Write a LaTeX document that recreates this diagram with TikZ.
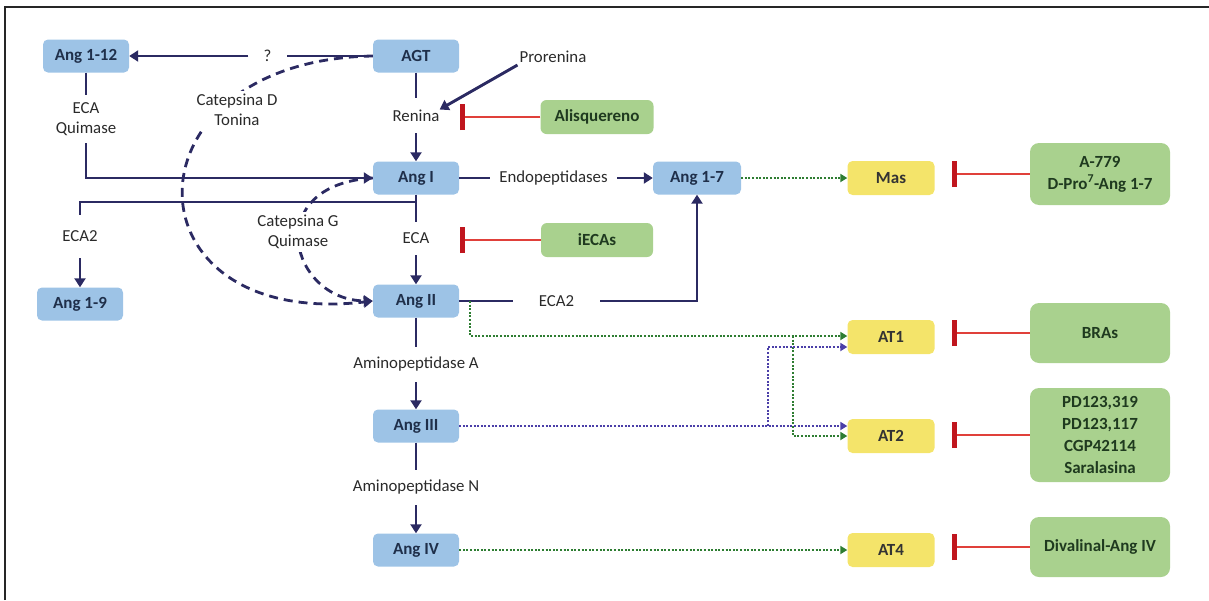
\documentclass[tikz,border=0pt]{standalone}
\usepackage{fontspec}
\setmainfont{Carlito}
\usetikzlibrary{arrows.meta,calc}
\definecolor{navy}{HTML}{2B2A62}
\definecolor{boxblue}{HTML}{9DC3E6}
\definecolor{boxgreen}{HTML}{A9D18E}
\definecolor{boxyellow}{HTML}{F4E46A}
\definecolor{inhred}{HTML}{E0403A}
\definecolor{barred}{HTML}{C0161E}
\definecolor{dotgreen}{HTML}{2E7D32}
\definecolor{dotpurple}{HTML}{4B3FA8}
\definecolor{txt}{HTML}{2A2A2A}
\definecolor{boxtxt}{HTML}{1F2F4A}
\definecolor{greentxt}{HTML}{1F3A1F}
\tikzset{
  base/.style={rounded corners=5pt, inner sep=2pt, align=center,
    font=\fontsize{17}{22}\selectfont\bfseries},
  bluebox/.style={base, fill=boxblue, text=boxtxt, minimum width=86pt, minimum height=33pt},
  yellowbox/.style={base, fill=boxyellow, text=black!80, minimum width=87pt, minimum height=34pt},
  greenbox/.style={base, fill=boxgreen, text=greentxt, rounded corners=9pt},
  lbl/.style={inner sep=0pt, align=center, text=txt, font=\fontsize{16.8}{20}\selectfont},
  flow/.style={draw=navy, line width=2.9pt},
  arr/.style={flow, -{Triangle[length=9pt,width=11pt]}},
  dasharr/.style={draw=navy, line width=2.8pt, dash pattern=on 9pt off 6pt, -{Triangle[length=9pt,width=11pt]}},
  inh/.style={draw=inhred, line width=2.4pt, -{Bar[width=26pt,line width=4.5pt,color=barred]}},
  gdot/.style={draw=dotgreen, line width=2.3pt, dash pattern=on 2pt off 1.6pt, -{Triangle[length=7pt,width=8pt]}},
  pdot/.style={draw=dotpurple, line width=2.3pt, dash pattern=on 2pt off 1.6pt, -{Triangle[length=7pt,width=8pt]}}
}
\begin{document}
\begin{tikzpicture}[x=1pt,y=-1pt]
\useasboundingbox (0,0) rectangle (1209,600);
\draw[line width=1.8pt, black!85] (5,600) -- (5,7) -- (1209,7);

% blue nodes
\node[bluebox] (a112) at (86,56) {Ang 1-12};
\node[bluebox] (agt) at (416,56) {AGT};
\node[bluebox] (ang1) at (416,178) {Ang I};
\node[bluebox] (ang2) at (416,301) {Ang II};
\node[bluebox] (ang3) at (416,426) {Ang III};
\node[bluebox] (ang4) at (416,550) {Ang IV};
\node[bluebox] (a19) at (80,304) {Ang 1-9};
\node[bluebox, minimum width=88pt] (a17) at (697,178) {Ang 1-7};

% yellow receptors
\node[yellowbox] (mas) at (891,178) {Mas};
\node[yellowbox] (at1) at (891,337) {AT1};
\node[yellowbox] (at2) at (891,436) {AT2};
\node[yellowbox] (at4) at (891,550) {AT4};

% green inhibitors
\node[greenbox, minimum width=113pt, minimum height=34pt, rounded corners=6pt] (alis) at (597,117) {Alisquereno};
\node[greenbox, minimum width=112pt, minimum height=34pt, rounded corners=6pt] (iecas) at (597,240) {iECAs};
\node[greenbox, minimum width=140pt, minimum height=62pt] (a779) at (1100,174) {A-779\\D-Pro\textsuperscript{7}-Ang 1-7};
\node[greenbox, minimum width=140pt, minimum height=60pt] (bras) at (1100,333) {BRAs};
\node[greenbox, minimum width=140pt, minimum height=94pt] (pd) at (1100,435) {PD123,319\\PD123,117\\CGP42114\\Saralasina};
\node[greenbox, minimum width=140pt, minimum height=60pt] (diva) at (1100,547) {Divalinal-Ang IV};

% labels
\node[lbl, minimum width=38pt] (q) at (267.5,56) {?};
\node[lbl, minimum height=35pt] (ren) at (416,115.5) {Renina};
\node[lbl, inner sep=2pt] (pro) at (553,57) {Prorenina};
\node[lbl, minimum height=33pt] (eca) at (416,238.5) {ECA};
\node[lbl, minimum height=48pt] (ecaq) at (86,119) {ECA\\Quimase};
\node[lbl, minimum height=43pt] (eca2l) at (80,236.5) {ECA2};
\node[lbl, minimum width=127pt] (endo) at (553.5,178) {Endopeptidases};
\node[lbl, minimum width=87pt] (eca2r) at (556.5,301) {ECA2};
\node[lbl, minimum height=35pt] (apa) at (416,364.5) {Aminopeptidase A};
\node[lbl, minimum height=35pt] (apn) at (416,487.5) {Aminopeptidase N};

% main cascade
\draw[flow] (agt.west) -- (q.east);
\draw[arr] (q.west) -- (a112.east);
\draw[flow] (agt.south) -- (ren.north);
\draw[arr] (ren.south) -- (ang1.north);
\draw[arr] (pro.south west) -- ([yshift=6pt]ren.east);
\draw[flow] (a112.south) -- (ecaq.north);
\draw[arr] (ecaq.south) |- (ang1.west);
\draw[flow] (ang1.south) -- (eca.north);
\draw[arr] (eca.south) -- (ang2.north);
\draw[flow] (ang1.south |- 0,202) -| (eca2l.north);
\draw[arr] (eca2l.south) -- (a19.north);
\draw[flow] (ang1.east) -- (endo.west);
\draw[arr] (endo.east) -- (a17.west);
\draw[flow] (ang2.east) -- (eca2r.west);
\draw[arr] (eca2r.east) -| (a17.south);
\draw[flow] (ang2.south) -- (apa.north);
\draw[arr] (apa.south) -- (ang3.north);
\draw[flow] (ang3.south) -- (apn.north);
\draw[arr] (apn.south) -- (ang4.north);

% dashed alternative pathways
\draw[dasharr] (agt.west) .. controls (120,60) and (120,330) .. (ang2.west);
\node[lbl, fill=white, inner sep=3pt] (catd) at (237,110) {Catepsina D\\Tonina};
\draw[dasharr] (ang1.west) .. controls (260,185) and (290,300) .. (ang2.west);
\node[lbl, fill=white, inner sep=3pt] (catg) at (298,232) {Catepsina G\\Quimase};

% receptor connections
\draw[gdot] (a17.east) -- (mas.west);
\draw[gdot] ($(ang2.east)+(11,0)$) |- ([yshift=1pt]at1.west);
\coordinate (gj) at (793,336);
\draw[gdot] (gj) |- (at2.west);
\draw[pdot] (ang3.east) -- ([yshift=10pt]at2.west);
\coordinate (pj) at (768,426);
\draw[pdot] (pj) |- ([yshift=-10pt]at1.west);
\draw[gdot] (ang4.east) -- (at4.west);

% inhibitions
\coordinate (bl) at (460,0);
\coordinate (br) at (952,0);
\draw[inh] (alis.west) -- (alis.west -| bl);
\draw[inh] (iecas.west) -- (iecas.west -| bl);
\draw[inh] (a779.west) -- (a779.west -| br);
\draw[inh] (bras.west) -- (bras.west -| br);
\draw[inh] (pd.west) -- (pd.west -| br);
\draw[inh] (diva.west) -- (diva.west -| br);
\end{tikzpicture}
\end{document}
